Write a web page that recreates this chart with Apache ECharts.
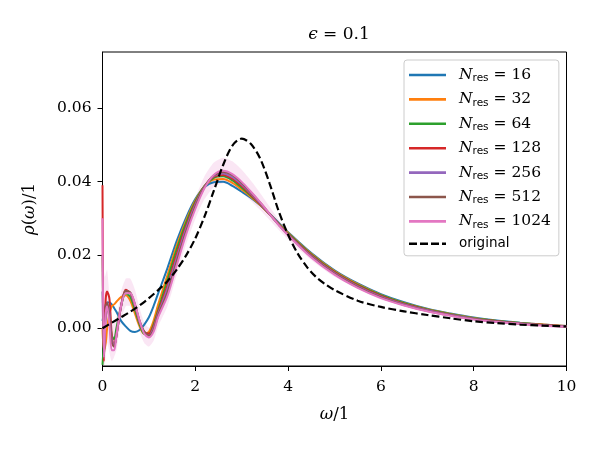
<!DOCTYPE html>
<html>
<head>
<meta charset="utf-8">
<script src="https://cdn.jsdelivr.net/npm/echarts@6/dist/echarts.min.js"></script>
<style>
  html, body { margin: 0; padding: 0; background: #fff; }
  #main { width: 600px; height: 450px; }
</style>
</head>
<body>
<div id="main"></div>
<script>
// omega grid shared by all reconstructed curves
const omega = [0, 0.03, 0.07, 0.1, 0.15, 0.2, 0.25, 0.3, 0.4, 0.5, 0.6, 0.7, 0.8, 0.9, 1.0, 1.1, 1.2,
  1.4, 1.6, 1.8, 2.0, 2.2, 2.4, 2.6, 2.8, 3.0, 3.2, 3.4, 3.6, 3.8, 4.0, 4.5, 5.0, 5.5, 6.0, 6.5,
  7.0, 7.5, 8.0, 8.5, 9.0, 9.5, 10];

const res16 = [0.002, 0.004, 0.0065, 0.007, 0.007, 0.0065, 0.0055, 0.0045, 0.002, 0.0005, -0.0007, -0.001, -0.0005, 0.001, 0.003, 0.006, 0.0095,
  0.0164, 0.0238, 0.0301, 0.0352, 0.0385, 0.0398, 0.0399, 0.0388, 0.0372, 0.0355, 0.0335, 0.0312, 0.0287, 0.0262, 0.0205, 0.0158, 0.0122, 0.0093, 0.0071,
  0.0053, 0.0040, 0.0029, 0.0021, 0.0015, 0.0010, 0.0006];
const res32 = [0.0, -0.006, -0.004, 0.0, 0.004, 0.006, 0.0065, 0.0072, 0.0085, 0.009, 0.0075, 0.004, 0.0005, -0.0015, -0.001, 0.002, 0.0065,
  0.0145, 0.0225, 0.0293, 0.0348, 0.0387, 0.0405, 0.0407, 0.0396, 0.0378, 0.0358, 0.0336, 0.0311, 0.0285, 0.026, 0.0203, 0.0156, 0.012, 0.0091, 0.0069,
  0.0052, 0.0039, 0.0028, 0.002, 0.0014, 0.001, 0.0006];
const res64 = [-0.01, -0.004, 0.004, 0.005, 0.003, -0.002, -0.003, 0.0, 0.006, 0.0095, 0.0085, 0.005, 0.001, -0.0015, -0.0015, 0.001, 0.005,
  0.0132, 0.0215, 0.0287, 0.0345, 0.0388, 0.041, 0.0414, 0.0403, 0.0383, 0.0361, 0.0337, 0.0311, 0.0284, 0.0258, 0.0201, 0.0154, 0.0118, 0.009, 0.0068,
  0.0051, 0.0038, 0.0027, 0.002, 0.0014, 0.0009, 0.0005];
const res128 = [0.039, -0.009, 0.008, 0.010, 0.008, -0.002, -0.005, -0.002, 0.006, 0.0105, 0.0095, 0.006, 0.0015, -0.001, -0.0015, 0.0005, 0.0045,
  0.0118, 0.0202, 0.0278, 0.034, 0.0387, 0.0413, 0.0418, 0.0408, 0.0388, 0.0364, 0.0338, 0.0311, 0.0283, 0.0256, 0.0199, 0.0152, 0.0116, 0.0088, 0.0066,
  0.005, 0.0037, 0.0026, 0.0019, 0.0013, 0.0009, 0.0005];
const res256 = [0.01, -0.007, 0.004, 0.007, 0.004, -0.003, -0.005, -0.002, 0.006, 0.0102, 0.0095, 0.0062, 0.0018, -0.001, -0.002, 0.0, 0.004,
  0.0108, 0.0192, 0.0271, 0.0336, 0.0386, 0.0415, 0.0422, 0.0412, 0.0392, 0.0367, 0.034, 0.0311, 0.0282, 0.0255, 0.0197, 0.015, 0.0114, 0.0086, 0.0065,
  0.0049, 0.0036, 0.0026, 0.0018, 0.0013, 0.0008, 0.0005];
const res512 = [0.02, -0.008, 0.005, 0.007, 0.003, -0.004, -0.005, -0.002, 0.006, 0.0102, 0.0097, 0.0065, 0.002, -0.001, -0.002, -0.0005, 0.0035,
  0.0098, 0.0182, 0.0263, 0.0331, 0.0385, 0.0417, 0.0426, 0.0417, 0.0396, 0.037, 0.0342, 0.0312, 0.0282, 0.0254, 0.0195, 0.0148, 0.0112, 0.0084, 0.0063,
  0.0047, 0.0035, 0.0025, 0.0018, 0.0012, 0.0008, 0.0004];
const res1024 = [0.03, -0.008, 0.004, 0.006, 0.001, -0.006, -0.006, -0.002, 0.006, 0.0095, 0.0095, 0.0065, 0.002, -0.0015, -0.0025, -0.001, 0.003,
  0.0088, 0.0172, 0.0255, 0.0325, 0.0382, 0.0418, 0.0429, 0.042, 0.0399, 0.0372, 0.0343, 0.0312, 0.0281, 0.0253, 0.0193, 0.0146, 0.011, 0.0082, 0.0062,
  0.0046, 0.0034, 0.0024, 0.0017, 0.0012, 0.0007, 0.0004];

// original spectral function (dashed)
const origX = [0, 0.2, 0.4, 0.6, 0.8, 1.0, 1.2, 1.4, 1.6, 1.8, 2.0, 2.2, 2.4, 2.6, 2.8, 3.0, 3.2, 3.4, 3.6, 3.8,
  4.0, 4.2, 4.4, 4.6, 4.8, 5.0, 5.5, 6.0, 6.5, 7.0, 7.5, 8.0, 8.5, 9.0, 9.5, 10];
const origY = [0.0, 0.0015, 0.003, 0.0045, 0.0062, 0.0082, 0.0104, 0.0128, 0.016, 0.0198, 0.0245, 0.0305, 0.0375, 0.0445, 0.0498, 0.0517, 0.0502, 0.0462, 0.0395, 0.0318,
  0.0255, 0.0205, 0.0168, 0.014, 0.012, 0.0104, 0.0075, 0.0058, 0.0046, 0.0036, 0.0027, 0.0019, 0.0014, 0.001, 0.0007, 0.0005];

// uncertainty band of the N_res = 1024 curve
const bandX = [0, 0.05, 0.1, 0.2, 0.3, 0.4, 0.5, 0.6, 0.7, 0.8, 0.9, 1.0, 1.1, 1.2, 1.4, 1.6, 1.8, 2.0, 2.2, 2.4, 2.6, 2.8,
  3.0, 3.2, 3.4, 3.6, 3.8, 4.0, 4.5, 5, 6, 7, 8, 10];
const bandLo = [-0.01, -0.01, -0.004, -0.009, -0.006, 0.002, 0.006, 0.006, 0.003, -0.001, -0.004, -0.005, -0.0035, 0.0005, 0.006, 0.0145, 0.0228, 0.0298, 0.0352, 0.0385, 0.0395, 0.0388,
  0.037, 0.0347, 0.0322, 0.0295, 0.0268, 0.0242, 0.0186, 0.014, 0.0078, 0.0043, 0.0022, 0.0002];
const bandHi = [0.02, 0.014, 0.016, 0.002, 0.003, 0.010, 0.0135, 0.0135, 0.0105, 0.0055, 0.0015, 0.0002, 0.0015, 0.0058, 0.0118, 0.020, 0.0285, 0.0355, 0.0415, 0.0452, 0.0465, 0.0455,
  0.0432, 0.0402, 0.0368, 0.0332, 0.0296, 0.0265, 0.0201, 0.0152, 0.0086, 0.0049, 0.0026, 0.0006];

const resNames = ['16', '32', '64', '128', '256', '512', '1024'];
const resData = [res16, res32, res64, res128, res256, res512, res1024];
const colors = ['#1f77b4', '#ff7f0e', '#2ca02c', '#d62728', '#9467bd', '#8c564b', '#e377c2'];
const yTicks = [0, 0.02, 0.04, 0.06];

const serif = "'DejaVu Serif', serif";
const sans = "'DejaVu Sans', sans-serif";
const chart = echarts.init(document.getElementById('main'));

const series = [];
// shaded band as one polygon
series.push({
  type: 'custom',
  silent: true,
  clip: true,
  z: 1,
  data: [0],
  renderItem: function (params, api) {
    const pts = [];
    for (let i = 0; i < bandX.length; i++) pts.push(api.coord([bandX[i], bandHi[i]]));
    for (let i = bandX.length - 1; i >= 0; i--) pts.push(api.coord([bandX[i], bandLo[i]]));
    return {
      type: 'polygon',
      shape: { points: pts, smooth: 0.2 },
      style: { fill: 'rgba(227,119,194,0.18)' }
    };
  }
});
resNames.forEach((n, k) => {
  series.push({
    name: 'N' + n,
    type: 'line',
    symbol: 'none',
    smooth: 0.3,
    z: 2,
    lineStyle: { color: colors[k], width: 2 },
    itemStyle: { color: colors[k] },
    data: omega.map((x, i) => [x, resData[k][i]])
  });
});
series.push({
  name: 'original',
  type: 'line',
  symbol: 'none',
  smooth: 0.3,
  z: 5,
  lineStyle: { color: '#000', width: 2.2, type: [7.5, 3.5] },
  itemStyle: { color: '#000' },
  data: origX.map((x, i) => [x, origY[i]])
});

const legendData = resNames.map(n => ({ name: 'N' + n, icon: 'rect' }));
legendData.push({
  name: 'original',
  icon: 'path://M0,0h8v2.6h-8z M11,0h8v2.6h-8z M22,0h8v2.6h-8z M33,0h4v2.6h-4z'
});

chart.setOption({
  animation: false,
  backgroundColor: '#fff',
  title: {
    text: '{e|ϵ}{t| = 0.1}',
    left: 334,
    top: 21,
    textAlign: 'center',
    textStyle: {
      fontWeight: 'normal',
      rich: {
        e: { fontFamily: serif, fontStyle: 'italic', fontWeight: 'normal', fontSize: 17, color: '#000' },
        t: { fontFamily: serif, fontWeight: 'normal', fontSize: 17, color: '#000' }
      }
    }
  },
  grid: {
    left: 102.5, right: 33.5, top: 52, bottom: 84,
    show: true, borderColor: '#000', borderWidth: 1
  },
  legend: {
    orient: 'vertical',
    left: 404, top: 60,
    padding: [6, 8, 5, 5],
    itemWidth: 37, itemHeight: 2.6, itemGap: 6.4,
    backgroundColor: 'rgba(255,255,255,0.8)',
    borderColor: '#ccc', borderWidth: 1, borderRadius: 3,
    data: legendData,
    formatter: function (name) {
      if (name === 'original') return '{o|original}';
      return '{i|N}{s|res}{n| = ' + name.slice(1) + '}';
    },
    textStyle: {
      padding: [0, 0, 0, 8],
      rich: {
        i: { fontFamily: serif, fontStyle: 'italic', fontSize: 15.5, lineHeight: 18, color: '#000' },
        s: { fontFamily: sans, fontSize: 10.5, lineHeight: 18, color: '#000', verticalAlign: 'bottom', padding: [7, 0, 0, 0] },
        n: { fontFamily: serif, fontSize: 15.5, lineHeight: 18, color: '#000' },
        o: { fontFamily: sans, fontSize: 13.5, lineHeight: 18, color: '#000' }
      }
    }
  },
  xAxis: {
    type: 'value',
    min: 0, max: 10, interval: 2,
    name: '{w|ω}{t|/1}',
    nameLocation: 'middle',
    nameGap: 40,
    nameTextStyle: {
      rich: {
        w: { fontFamily: serif, fontStyle: 'italic', fontSize: 16.5, color: '#000' },
        t: { fontFamily: serif, fontSize: 16.5, color: '#000' }
      }
    },
    axisLine: { onZero: false, lineStyle: { color: '#000', width: 1 } },
    axisTick: { length: 5, lineStyle: { color: '#000' } },
    axisLabel: { color: '#000', fontFamily: serif, fontSize: 15.5, margin: 13 },
    splitLine: { show: false }
  },
  yAxis: {
    type: 'value',
    min: -0.0103, max: 0.0753,
    name: '{r|ρ}{t|(}{w|ω}{t|)/1}',
    nameLocation: 'middle',
    nameGap: 64,
    nameTextStyle: {
      rich: {
        r: { fontFamily: serif, fontStyle: 'italic', fontSize: 16.5, color: '#000' },
        w: { fontFamily: serif, fontStyle: 'italic', fontSize: 16.5, color: '#000' },
        t: { fontFamily: serif, fontSize: 16.5, color: '#000' }
      }
    },
    axisLine: { show: true, onZero: false, lineStyle: { color: '#000', width: 1 } },
    axisTick: { show: true, length: 5, customValues: yTicks, lineStyle: { color: '#000' } },
    axisLabel: {
      color: '#000', fontFamily: serif, fontSize: 15.5, margin: 11,
      customValues: yTicks,
      formatter: v => v.toFixed(2)
    },
    splitLine: { show: false }
  },
  series: series
});
</script>
</body>
</html>
